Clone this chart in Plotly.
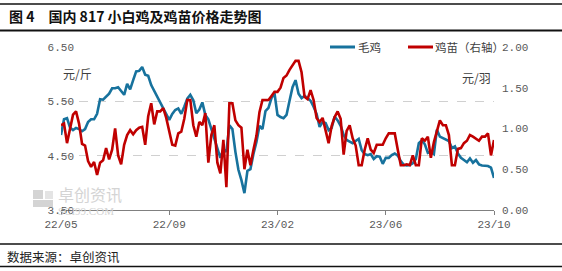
import plotly.graph_objects as go

# ---------------- data ----------------
tick_labels = ["22/05", "22/09", "23/02", "23/06", "23/10"]
tick_index = [0, 36, 72, 108, 144]

broiler = [  # 毛鸡 元/斤 (left axis)
    4.88, 5.17, 5.19, 5.02, 4.97, 5.01, 4.99, 4.95, 4.99, 5.12,
    5.17, 5.17, 5.27, 5.54, 5.53, 5.58, 5.64, 5.74, 5.74, 5.76,
    5.68, 5.62, 5.82, 5.72, 5.89, 6.05, 6.06, 6.13, 5.99, 5.97,
    5.80, 5.69, 5.60, 5.49, 5.39, 5.27, 5.16, 5.27, 5.34, 5.37,
    5.27, 5.40, 5.55, 5.62, 5.52, 5.28, 5.35, 5.48, 5.25, 5.17,
    4.99, 4.81, 4.62, 4.46, 4.62, 4.57, 5.06, 4.99, 4.57, 4.24,
    4.05, 3.81, 4.22, 4.25, 4.53, 4.75, 5.05, 4.99, 5.32, 5.38,
    5.56, 5.65, 5.25, 5.21, 5.19, 5.25, 5.51, 5.76, 5.89, 5.64,
    5.56, 5.60, 5.56, 5.51, 5.40, 5.27, 5.03, 5.12, 5.10, 4.97,
    5.01, 5.22, 5.15, 5.05, 4.88, 4.79, 4.76, 4.73, 4.77, 4.81,
    4.60, 4.53, 4.51, 4.53, 4.44, 4.49, 4.48, 4.35, 4.46, 4.46,
    4.51, 4.54, 4.50, 4.40, 4.33, 4.32, 4.33, 4.36, 4.44, 4.73,
    4.78, 4.71, 4.55, 4.57, 4.53, 4.98, 4.85, 4.82, 4.80, 4.77,
    4.64, 4.67, 4.54, 4.46, 4.42, 4.38, 4.45, 4.37, 4.42, 4.34,
    4.32, 4.31, 4.31, 4.28, 4.09,
]

chick = [  # 鸡苗 元/羽 (right axis)
    1.04, 1.06, 0.82, 0.98, 1.17, 1.21, 1.06, 0.81, 0.79, 0.60,
    0.53, 0.59, 0.43, 0.58, 0.61, 0.76, 0.62, 0.74, 1.00, 0.67,
    0.56, 0.80, 0.92, 0.98, 0.93, 0.98, 1.01, 1.02, 0.80, 1.15,
    1.31, 1.05, 1.21, 1.21, 1.25, 1.13, 0.96, 0.80, 0.79, 0.94,
    0.96, 1.12, 1.35, 1.35, 1.04, 0.90, 1.08, 1.04, 1.19, 0.58,
    0.92, 1.04, 0.58, 0.45, 0.86, 0.28, 1.31, 1.31, 1.10, 1.04,
    1.01, 0.50, 0.74, 0.55, 0.74, 0.91, 1.20, 1.35, 1.35, 1.35,
    1.40, 1.45, 1.45, 1.50, 1.62, 1.65, 1.72, 1.78, 1.83, 1.83,
    1.69, 1.39, 1.36, 1.47, 1.35, 1.13, 1.08, 1.13, 0.96, 0.82,
    1.03, 1.14, 1.21, 1.12, 0.68, 0.97, 1.04, 0.88, 0.79, 0.55,
    0.55, 0.74, 0.88, 0.74, 0.70, 0.80, 0.80, 0.80, 0.88, 0.94,
    0.94, 0.94, 0.74, 0.55, 0.55, 0.56, 0.55, 0.67, 0.55, 0.55,
    0.88, 0.85, 0.90, 0.64, 0.83, 0.98, 1.10, 1.04, 1.04, 0.92,
    0.55, 0.55, 0.75, 0.76, 0.82, 0.85, 0.92, 0.90, 0.88, 0.85,
    0.90, 0.90, 0.94, 0.67, 0.86,
]

name_broiler = "毛鸡"
name_chick = "鸡苗（右轴）"
title_text = "图 4　国内 817 小白鸡及鸡苗价格走势图"
source_text = "数据来源：卓创资讯"

# ---------------- layout helpers ----------------
W, H = 562, 271
L, R, T, B = 61, 68, 47, 61
PW, PH = W - L - R, H - T - B


def px(x):
    return (x - L) / PW


def py(y):
    return (H - B - y) / PH


BLUE = "#17729d"
RED = "#c00000"
GRAY = "#595959"
CJK = "Noto Sans CJK SC"

fig = go.Figure()
fig.add_trace(go.Scatter(
    x=list(range(len(broiler))), y=broiler, name=name_broiler, mode="lines",
    line=dict(color=BLUE, width=2.6), yaxis="y",
))
fig.add_trace(go.Scatter(
    x=list(range(len(chick))), y=chick, name=name_chick, mode="lines",
    line=dict(color=RED, width=2.6), yaxis="y2",
))

tick_font = dict(family="Liberation Mono, DejaVu Sans Mono", size=11, color=GRAY)

fig.update_layout(
    width=W, height=H,
    margin=dict(l=L, r=R, t=T, b=B, pad=0),
    paper_bgcolor="white", plot_bgcolor="white",
    showlegend=False,
    xaxis=dict(
        range=[0, len(broiler) - 1], tickmode="array",
        tickvals=tick_index, ticktext=tick_labels,
        showgrid=False, zeroline=False,
        showline=True, linecolor="#808080", linewidth=1,
        ticks="outside", ticklen=4, tickcolor="#808080",
        tickfont=tick_font,
    ),
    yaxis=dict(
        range=[3.5, 6.5], dtick=1, tick0=3.5, tickformat=".2f",
        showgrid=True, gridcolor="#d0d0d0", griddash="dash", gridwidth=1,
        zeroline=False, showline=False, ticks="",
        tickfont=tick_font, ticklabelstandoff=-14,
    ),
    yaxis2=dict(
        range=[0, 2], dtick=0.5, tick0=0, tickformat=".2f",
        overlaying="y", side="right", showgrid=False, zeroline=False,
        showline=False, ticks="", tickfont=tick_font, ticklabelstandoff=7,
    ),
)

legend_font = dict(family=CJK, size=11.5, color="#404040")
watermark = ("<span style='font-size:16px'>卓创资讯</span><br>"
             "<span style='font-family:Liberation Serif'>SCI99.COM</span>")
annotations = [
    dict(text="<b>" + title_text + "</b>", x=px(7), y=py(16), xanchor="left",
         yanchor="middle", font=dict(family=CJK, size=14, color="#111111")),
    dict(text=source_text, x=px(5), y=py(256), xanchor="left", yanchor="middle",
         font=dict(family=CJK, size=12.5, color="#222222")),
    dict(text="元/斤", x=px(61), y=py(73), xanchor="left", yanchor="middle",
         font=dict(family=CJK, size=12, color="#404040")),
    dict(text="元/羽", x=px(493), y=py(77), xanchor="right", yanchor="middle",
         font=dict(family=CJK, size=12, color="#404040")),
    dict(text=name_broiler, x=px(356), y=py(47), xanchor="left", yanchor="middle",
         font=legend_font),
    dict(text=name_chick, x=px(433), y=py(47), xanchor="left", yanchor="middle",
         font=legend_font),
    dict(text=watermark, x=px(57), y=py(199), xanchor="left", yanchor="middle",
         align="left", borderpad=0,
         font=dict(family=CJK, size=11, color="#d4d4d4")),
]
for a in annotations:
    a.update(xref="paper", yref="paper", showarrow=False)
fig.update_layout(annotations=annotations)

shapes = []
for yline, w in [(4, 1.5), (30.5, 2), (244, 1.5), (266.5, 1.5)]:
    shapes.append(dict(type="line", xref="paper", yref="paper",
                       x0=px(0), x1=px(W), y0=py(yline), y1=py(yline),
                       line=dict(color="#111111", width=w)))
# legend symbols
for (x0, x1), col in [((330, 355), BLUE), ((408, 433), RED)]:
    shapes.append(dict(type="line", xref="paper", yref="paper",
                       x0=px(x0), x1=px(x1), y0=py(47), y1=py(47),
                       line=dict(color=col, width=3)))
# watermark logo blocks
for (x0, x1, y0, y1, c) in [(33, 43, 190, 199, "#d4d4d4"),
                            (33, 53, 200, 207, "#d4d4d4"),
                            (45, 53, 191, 199, "#e4e4e4")]:
    shapes.append(dict(type="rect", xref="paper", yref="paper", layer="below",
                       x0=px(x0), x1=px(x1), y0=py(y1), y1=py(y0),
                       fillcolor=c, line=dict(width=0)))
fig.update_layout(shapes=shapes)

fig.write_html("out.html")
